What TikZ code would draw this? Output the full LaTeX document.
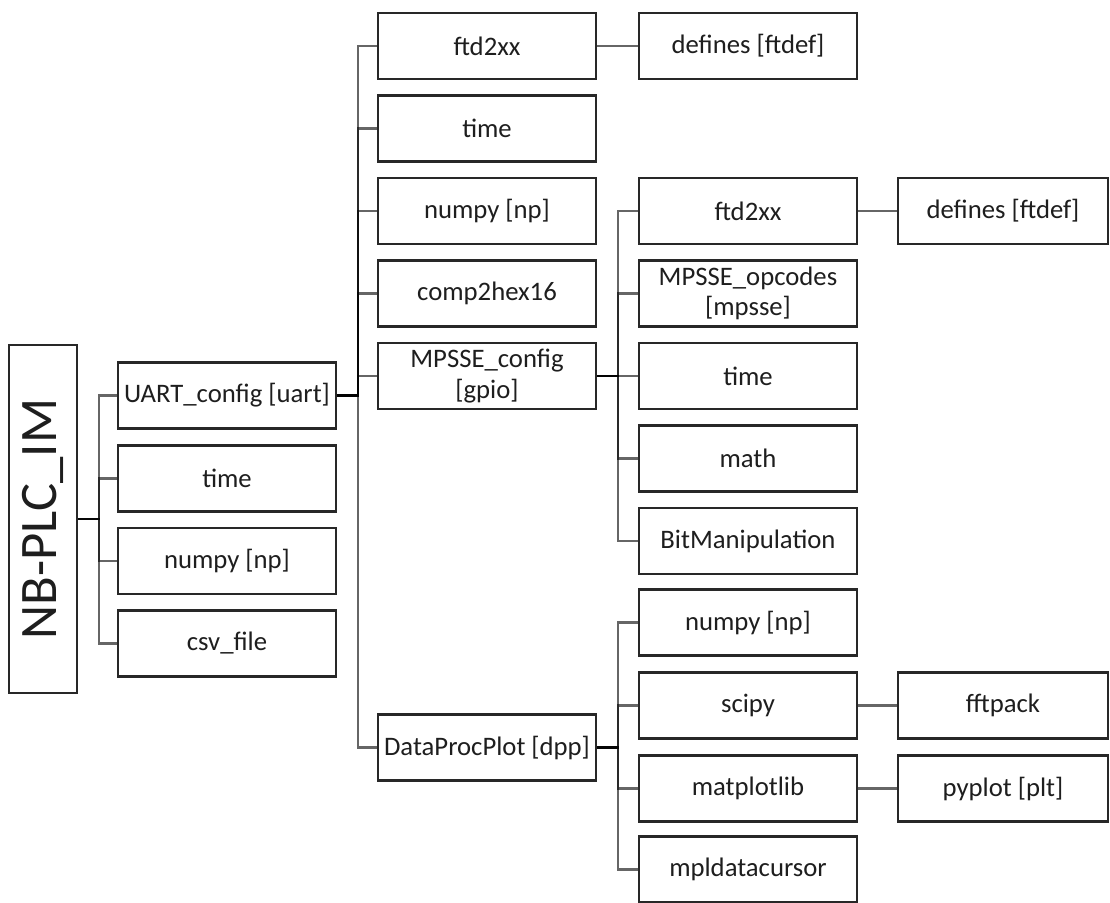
\documentclass[tikz,border=0pt]{standalone}
\usepackage{fontspec}
\setmainfont{Carlito}
\usetikzlibrary{positioning}
\usepackage{xcolor}
\definecolor{boxline}{RGB}{40,40,40}
\definecolor{txtdark}{RGB}{30,30,30}
\tikzset{
    modbox/.style={
        draw=boxline,line width=1.2pt,fill=white,
        minimum width=#1,minimum height=1.32cm,inner sep=1pt,
        align=center,text=txtdark,font=\fontsize{15.2}{17.5}\selectfont
    },
    modbox/.default=4.36cm,
    branch/.style={
        draw=black,line width=1.2pt,opacity=0.6,
        to path={-- ++(21,0) |- (\tikztotarget)}
    },
    link/.style={
        draw=black,line width=1.2pt,opacity=0.6
    }
}

\begin{document}
\begin{tikzpicture}[x=0.02cm,y=-0.02cm]
\useasboundingbox (0,0) rectangle (1110,903);

\node[modbox,minimum width=1.36cm,minimum height=6.96cm,inner sep=0pt]
(root) at (43,519) {\rotatebox{90}{\fontsize{30}{32}\selectfont NB-PLC\_IM}};

% first level
\node[modbox] (uart) at (227,395.5) {UART\_config [uart]};
\node[modbox] (time1) at (227,478.5) {time};
\node[modbox] (np1) at (227,561) {numpy [np]};
\node[modbox] (csv) at (227,643.5) {csv\_file};

% imported by uart
\node[modbox] (ftd1) at (487,46) {ftd2xx};
\node[modbox] (time2) at (487,128.5) {time};
\node[modbox] (np2) at (487,211) {numpy [np]};
\node[modbox] (c2h) at (487,293.5) {comp2hex16};
\node[modbox] (gpio) at (487,376) {MPSSE\_config\\{[gpio]}};
\node[modbox] (dpp) at (487,747.5) {DataProcPlot [dpp]};
\node[modbox] (def1) at (748,46) {defines [ftdef]};

% imported by gpio
\node[modbox] (ftd2) at (748,211) {ftd2xx};
\node[modbox] (mpsse) at (748,293.5) {MPSSE\_opcodes\\{[mpsse]}};
\node[modbox] (time3) at (748,376) {time};
\node[modbox] (math) at (748,458.5) {math};
\node[modbox] (bitm) at (748,541) {BitManipulation};
\node[modbox=4.2cm] (def2) at (1003,211) {defines [ftdef]};

% imported by dpp
\node[modbox] (np3) at (748,622.5) {numpy [np]};
\node[modbox] (scipy) at (748,705.5) {scipy};
\node[modbox] (mpl) at (748,788.5) {matplotlib};
\node[modbox] (mdc) at (748,869.5) {mpldatacursor};
\node[modbox=4.2cm] (fft) at (1003,705.5) {fftpack};
\node[modbox=4.2cm] (plt) at (1003,788.5) {pyplot [plt]};

\foreach \c in {uart,time1,np1,csv}
    \draw[branch] (root.east) to (\c.west);
\foreach \c in {ftd1,time2,np2,c2h,gpio,dpp}
    \draw[branch] (uart.east) to (\c.west);
\foreach \c in {ftd2,mpsse,time3,math,bitm}
    \draw[branch] (gpio.east) to (\c.west);
\foreach \c in {np3,scipy,mpl,mdc}
    \draw[branch] (dpp.east) to (\c.west);

\draw[link] (ftd1.east) -- (def1.west);
\draw[link] (ftd2.east) -- (def2.west);
\draw[link] (scipy.east) -- (fft.west);
\draw[link] (mpl.east) -- (plt.west);

\end{tikzpicture}
\end{document}
